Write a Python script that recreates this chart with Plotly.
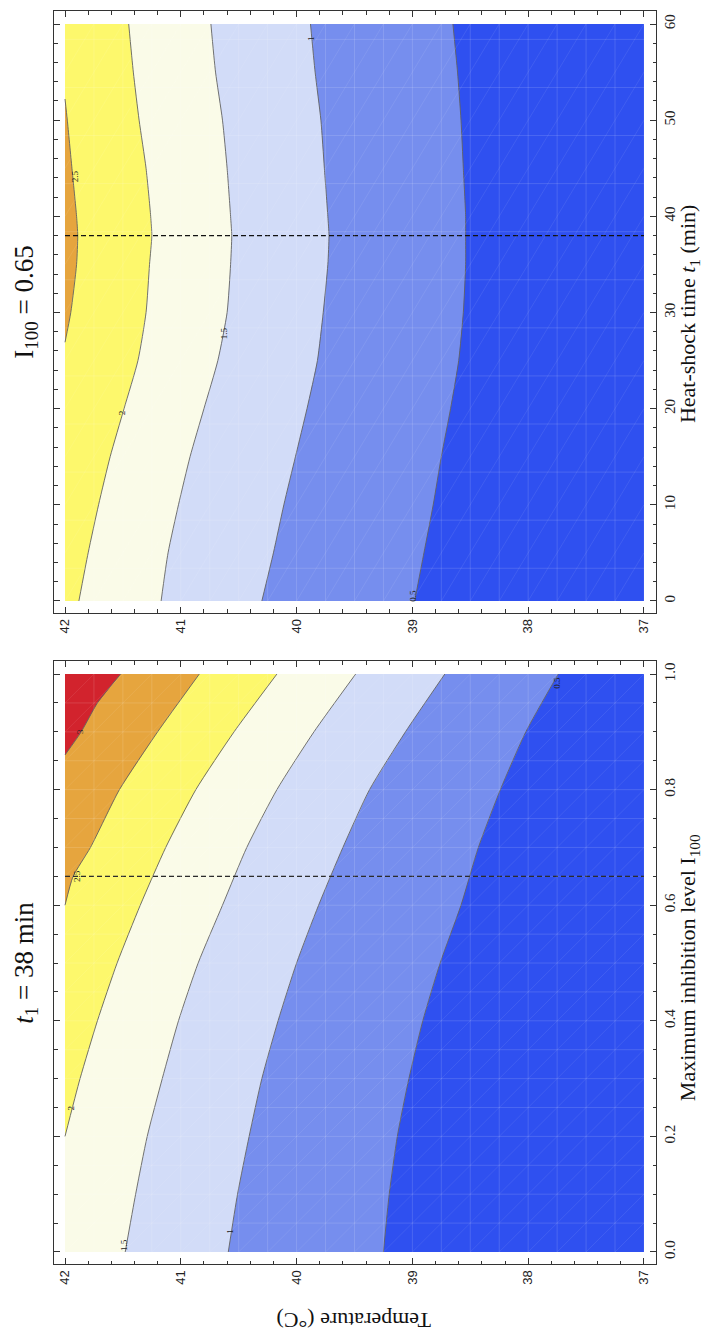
import plotly.graph_objects as go

# ------------------------------------------------------------------ data
T_MIN, T_MAX = 37.0, 42.0          # temperature (°C)
I_MIN, I_MAX = 0.0, 1.0            # maximum inhibition level I100
t_MIN, t_MAX = 0.0, 60.0           # heat-shock time t1 (min)
DASH_I100 = 0.65
DASH_T1 = 38.0

# colours of the bands, from below 0.5 up to above 3
BAND_COLORS = ["#2f50f0", "#768eee", "#d2dcf8", "#fafbe8", "#fdf86c", "#e6a53e", "#d2232d"]

# lower panel (t1 = 38 min): contour lines, temperature as a function of I100
low_I = [0.0, 0.1, 0.2, 0.3, 0.4, 0.5, 0.6, 0.7, 0.8, 0.9, 1.0]
low_T_05 = [39.25, 39.20, 39.13, 39.03, 38.91, 38.76, 38.58, 38.43, 38.24, 38.02, 37.74]
low_T_10 = [40.59, 40.51, 40.41, 40.30, 40.16, 40.00, 39.81, 39.60, 39.37, 39.06, 38.72]
low_T_15 = [41.48, 41.39, 41.29, 41.16, 41.02, 40.85, 40.64, 40.43, 40.17, 39.85, 39.49]
low_I_20 = [0.2, 0.3, 0.4, 0.5, 0.6, 0.7, 0.8, 0.9, 1.0]
low_T_20 = [42.0, 41.87, 41.72, 41.55, 41.35, 41.13, 40.87, 40.54, 40.17]
low_I_25 = [0.6, 0.65, 0.7, 0.8, 0.9, 1.0]
low_T_25 = [42.0, 41.93, 41.78, 41.53, 41.20, 40.84]
low_I_30 = [0.86, 0.9, 0.95, 1.0]
low_T_30 = [42.0, 41.86, 41.72, 41.52]

# upper panel (I100 = 0.65): contour lines, temperature as a function of t1
up_t = [0, 5, 10, 15, 20, 25, 30, 35, 38, 40, 45, 50, 55, 60]
up_T_05 = [38.98, 38.90, 38.82, 38.75, 38.67, 38.60, 38.56, 38.54, 38.54, 38.54, 38.56, 38.58, 38.61, 38.65]
up_T_10 = [40.30, 40.20, 40.11, 40.01, 39.91, 39.82, 39.77, 39.73, 39.72, 39.73, 39.76, 39.79, 39.84, 39.88]
up_T_15 = [41.17, 41.11, 41.02, 40.92, 40.80, 40.68, 40.60, 40.57, 40.56, 40.57, 40.60, 40.64, 40.70, 40.74]
up_T_20 = [41.88, 41.80, 41.71, 41.61, 41.49, 41.37, 41.30, 41.27, 41.25, 41.26, 41.30, 41.36, 41.41, 41.45]
up_t_25 = [26.9, 30, 35, 38, 40, 45, 50, 52.2]
up_T_25 = [42.0, 41.95, 41.90, 41.89, 41.90, 41.94, 41.98, 42.0]

# contour labels: (text, temperature, coordinate)
low_labels = [("3", 41.87, 0.90), ("2.5", 41.89, 0.65), ("2", 41.94, 0.25),
              ("1.5", 41.49, 0.012), ("1", 40.57, 0.036), ("0.5", 37.75, 0.985)]
up_labels = [("2.5", 41.91, 44.2), ("2", 41.50, 19.6), ("1.5", 40.63, 27.8),
             ("1", 39.87, 58.5), ("0.5", 38.99, 0.5)]

# ------------------------------------------------------------------ figure
SERIF = "Liberation Serif"
SANS = "Liberation Sans"
LINE_COL = "#626262"
FRAME_COL = "#333333"

fig = go.Figure()


def add_panel(xa, ya, ymin, ymax, bounds, dash_val, labels):
    # background band (below 0.5)
    fig.add_trace(go.Scatter(x=[T_MIN, T_MAX, T_MAX, T_MIN], y=[ymin, ymin, ymax, ymax],
                             fill="toself", fillcolor=BAND_COLORS[0], mode="none",
                             xaxis=xa, yaxis=ya, hoverinfo="skip", showlegend=False))
    # bands above each level (toward the hot side, T = 42)
    for k, (ys, xs) in enumerate(bounds):
        px = list(xs) + [T_MAX, T_MAX]
        py = list(ys) + [ys[-1], ys[0]]
        fig.add_trace(go.Scatter(x=px, y=py, fill="toself", fillcolor=BAND_COLORS[k + 1],
                                 mode="none", xaxis=xa, yaxis=ya, hoverinfo="skip",
                                 showlegend=False))
    # contour lines
    for ys, xs in bounds:
        fig.add_trace(go.Scatter(x=xs, y=ys, mode="lines",
                                 line=dict(color=LINE_COL, width=0.9, shape="spline", smoothing=0.6),
                                 xaxis=xa, yaxis=ya, hoverinfo="skip", showlegend=False))
    # dashed reference line
    fig.add_trace(go.Scatter(x=[T_MAX, T_MIN], y=[dash_val, dash_val], mode="lines",
                             line=dict(color="#111111", width=1.3, dash="5px,3px"),
                             xaxis=xa, yaxis=ya, hoverinfo="skip", showlegend=False))
    # contour labels
    for txt, tx, ty in labels:
        fig.add_annotation(x=tx, y=ty, xref=xa, yref=ya, text=txt,
                           showarrow=False, textangle=-90,
                           xanchor="center", yanchor="middle",
                           font=dict(family=SERIF, size=9, color="#222222"))


add_panel("x2", "y2", I_MIN, I_MAX,
          [(low_I, low_T_05), (low_I, low_T_10), (low_I, low_T_15),
           (low_I_20, low_T_20), (low_I_25, low_T_25), (low_I_30, low_T_30)],
          DASH_I100, low_labels)
add_panel("x", "y", t_MIN, t_MAX,
          [(up_t, up_T_05), (up_t, up_T_10), (up_t, up_T_15),
           (up_t, up_T_20), (up_t_25, up_T_25)],
          DASH_T1, up_labels)

# faint rendering mesh (decoration)
shapes = []
mesh = dict(color="rgba(255,255,255,0.20)", width=0.7)
mesh_d = dict(color="rgba(255,255,255,0.14)", width=0.6)
n = 1
while T_MIN + 0.25 * n < T_MAX - 1e-9:
    xv = T_MIN + 0.25 * n
    shapes.append(dict(type="line", xref="x2", yref="y2", x0=xv, x1=xv, y0=I_MIN, y1=I_MAX, line=mesh))
    shapes.append(dict(type="line", xref="x", yref="y", x0=xv, x1=xv, y0=t_MIN, y1=t_MAX, line=mesh))
    n += 1
for k in range(1, 20):
    yv = 0.05 * k
    shapes.append(dict(type="line", xref="x2", yref="y2", x0=T_MIN, x1=T_MAX, y0=yv, y1=yv, line=mesh))
for k in range(0, 12):
    yv = 3.4 + 5.0 * k
    shapes.append(dict(type="line", xref="x", yref="y", x0=T_MIN, x1=T_MAX, y0=yv, y1=yv, line=mesh))
# diagonals lower panel: T + 5 I = c
for k in range(1, 40):
    c = T_MIN + 0.25 * k
    i0, i1 = max(I_MIN, (c - T_MAX) / 5.0), min(I_MAX, (c - T_MIN) / 5.0)
    shapes.append(dict(type="line", xref="x2", yref="y2", x0=c - 5 * i0, x1=c - 5 * i1,
                       y0=i0, y1=i1, line=mesh_d))
# diagonals upper panel: T + 0.05 t = c
for k in range(1, 32):
    c = T_MIN + 0.25 * k
    a0, a1 = max(t_MIN, (c - T_MAX) / 0.05), min(t_MAX, (c - T_MIN) / 0.05)
    shapes.append(dict(type="line", xref="x", yref="y", x0=c - 0.05 * a0, x1=c - 0.05 * a1,
                       y0=a0, y1=a1, line=mesh_d))

# ------------------------------------------------------------------ axes
xcommon = dict(range=[42.095, 36.896], tickmode="linear", tick0=37, dtick=1,
               ticks="inside", ticklen=6, tickwidth=1, tickcolor=FRAME_COL,
               showline=True, linecolor=FRAME_COL, linewidth=1, mirror="ticks",
               minor=dict(ticks="inside", tick0=37, dtick=0.2, ticklen=3.5, tickcolor=FRAME_COL),
               tickangle=-90, tickfont=dict(family=SANS, size=13, color="#222222"),
               showgrid=False, zeroline=False)
ycommon = dict(side="right", ticks="inside", ticklen=6, tickwidth=1, tickcolor=FRAME_COL,
               showline=True, linecolor=FRAME_COL, linewidth=1, mirror="ticks",
               tickangle=-90, tickfont=dict(family=SERIF, size=15, color="#222222"),
               showgrid=False, zeroline=False)

fig.update_layout(
    width=712, height=1341,
    margin=dict(l=46, r=64, t=3, b=85),
    paper_bgcolor="white", plot_bgcolor="white",
    showlegend=False,
    xaxis=dict(domain=[0, 1], anchor="y", **xcommon),
    xaxis2=dict(domain=[0, 1], anchor="y2", **xcommon),
    yaxis=dict(domain=[0.5196, 1.0], anchor="x", range=[-1.248, 61.352],
               tickmode="linear", tick0=0, dtick=10,
               minor=dict(ticks="inside", tick0=0, dtick=2, ticklen=3.5, tickcolor=FRAME_COL),
               **ycommon),
    yaxis2=dict(domain=[0, 0.4812], anchor="x2", range=[-0.0208, 1.0225],
                tickmode="linear", tick0=0, dtick=0.2, tickformat=".1f",
                minor=dict(ticks="inside", tick0=0, dtick=0.05, ticklen=3.5, tickcolor=FRAME_COL),
                **ycommon),
    shapes=shapes,
)

title_font = dict(family=SERIF, size=27, color="#111111")
label_font = dict(family=SERIF, size=22, color="#111111")
common = dict(xref="paper", yref="paper", showarrow=False, xanchor="center", yanchor="middle")
fig.add_annotation(x=-0.047, y=0.7678, text="I<sub>100</sub> = 0.65", textangle=-90,
                   font=title_font, **common)
fig.add_annotation(x=-0.047, y=0.2402, text="<i>t</i><sub>1</sub> = 38 min", textangle=-90,
                   font=title_font, **common)
fig.add_annotation(x=1.055, y=0.7582, text="Heat-shock time <i>t</i><sub>1</sub> (min)",
                   textangle=-90, font=label_font, **common)
fig.add_annotation(x=1.055, y=0.2362, text="Maximum inhibition level I<sub>100</sub>",
                   textangle=-90, font=label_font, **common)
fig.add_annotation(x=0.4983, y=-0.0445, text="Temperature (°C)", textangle=180,
                   font=label_font, **common)

fig.write_html("out.html")
